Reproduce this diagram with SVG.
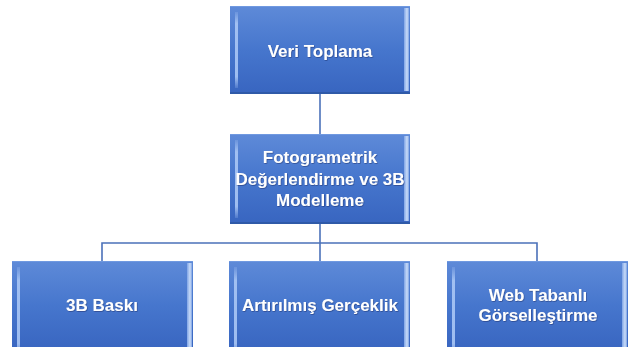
<svg xmlns="http://www.w3.org/2000/svg" width="628" height="347" viewBox="0 0 628 347">
<defs>
<linearGradient id="fill" x1="0" y1="0" x2="0" y2="1">
<stop offset="0" stop-color="#5e8ad8"/>
<stop offset="0.5" stop-color="#4676cd"/>
<stop offset="1" stop-color="#3865c0"/>
</linearGradient>
<linearGradient id="hlL" x1="0" y1="0" x2="0" y2="1">
<stop offset="0" stop-color="#a9c6f5" stop-opacity="0.2"/>
<stop offset="0.15" stop-color="#a9c6f5" stop-opacity="0.9"/>
<stop offset="0.85" stop-color="#a9c6f5" stop-opacity="0.9"/>
<stop offset="1" stop-color="#a9c6f5" stop-opacity="0.2"/>
</linearGradient>
<linearGradient id="hlR" x1="0" y1="0" x2="1" y2="0">
<stop offset="0" stop-color="#7fa4e6"/>
<stop offset="0.6" stop-color="#c9dcf8"/>
<stop offset="1" stop-color="#7ea3e4"/>
</linearGradient>
<filter id="ts" x="-10%" y="-30%" width="120%" height="160%">
<feDropShadow dx="0.6" dy="0.8" stdDeviation="0.6" flood-color="#1a2f66" flood-opacity="0.6"/>
</filter>
</defs>
<style>
.box{fill:url(#fill);}
.top{fill:#7099e0;}
.bot{fill:#2f5aa8;}
.hl{fill:url(#hlL);}
.hr{fill:url(#hlR);}
.t{font-family:"Liberation Sans",Arial,sans-serif;font-weight:bold;font-size:17px;fill:#ffffff;text-anchor:middle;filter:url(#ts);}
.c{fill:none;stroke:#4b71b9;stroke-width:1.6;}
</style>
<g id="connectors">
<path class="c" d="M320 94 V134"/>
<path class="c" d="M320 224 V261"/>
<path class="c" d="M102 261 V243 H537 V261"/>
</g>
<g id="n1">
<rect class="box" x="230" y="6" width="180" height="88"/>
<rect class="top" x="230" y="6" width="180" height="1"/>
<rect class="bot" x="230" y="92" width="180" height="2"/>
<rect class="hl" x="235" y="12" width="3" height="76"/>
<rect class="hr" x="404" y="8" width="5" height="83"/>
<text class="t" x="320" y="57">Veri Toplama</text>
</g>
<g id="n2">
<rect class="box" x="230" y="134" width="180" height="90"/>
<rect class="top" x="230" y="134" width="180" height="1"/>
<rect class="bot" x="230" y="222" width="180" height="2"/>
<rect class="hl" x="235" y="140" width="3" height="78"/>
<rect class="hr" x="404" y="136" width="5" height="85"/>
<text class="t" x="320" y="163">Fotogrametrik</text>
<text class="t" x="320" y="185">Değerlendirme ve 3B</text>
<text class="t" x="320" y="206">Modelleme</text>
</g>
<g id="n3">
<rect class="box" x="12" y="261" width="181" height="90"/>
<rect class="top" x="12" y="261" width="181" height="1"/>
<rect class="hl" x="17" y="267" width="3" height="90"/>
<rect class="hr" x="187" y="263" width="5" height="90"/>
<text class="t" x="102" y="311">3B Baskı</text>
</g>
<g id="n4">
<rect class="box" x="229" y="261" width="181" height="90"/>
<rect class="top" x="229" y="261" width="181" height="1"/>
<rect class="hl" x="234" y="267" width="3" height="90"/>
<rect class="hr" x="404" y="263" width="5" height="90"/>
<text class="t" x="320" y="311">Artırılmış Gerçeklik</text>
</g>
<g id="n5">
<rect class="box" x="447" y="261" width="181" height="90"/>
<rect class="top" x="447" y="261" width="181" height="1"/>
<rect class="hl" x="452" y="267" width="3" height="90"/>
<rect class="hr" x="622" y="263" width="5" height="90"/>
<text class="t" x="538" y="301">Web Tabanlı</text>
<text class="t" x="538" y="321">Görselleştirme</text>
</g>
</svg>
